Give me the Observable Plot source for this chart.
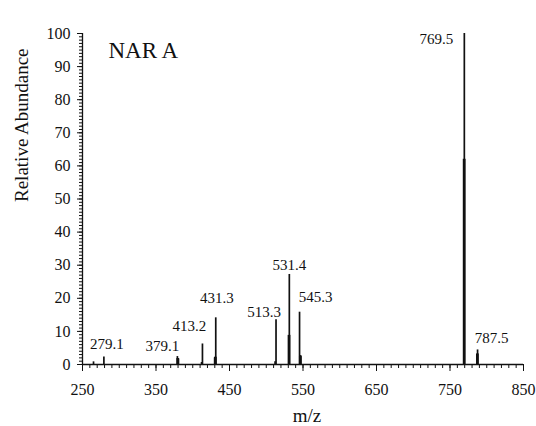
<!DOCTYPE html>
<html>
<head>
<meta charset="utf-8">
<script src="https://cdn.jsdelivr.net/npm/d3@7"></script>
<script src="https://cdn.jsdelivr.net/npm/@observablehq/plot@0.6"></script>
<style>
  html, body { margin: 0; padding: 0; background: #fff; font-family: "Liberation Serif", serif; }
  svg text { font-family: "Liberation Serif", serif !important; }
</style>
</head>
<body>
<div id="chart"></div>
<script>
// Main peaks (m/z, relative abundance)
const peakMz = [265.0, 279.1, 379.1, 380.4, 412.0, 413.2, 429.8, 431.3, 512.0, 513.3, 531.4, 545.3, 546.8, 769.5, 787.5];
const peakAbund = [0.8, 2.3, 2.4, 1.6, 0.6, 6.2, 2.0, 14.1, 0.8, 13.5, 27.2, 15.8, 2.7, 100, 4.4];
// Broadened bases of peaks (m/z, relative abundance)
const baseMz = [379.6, 430.8, 531.0, 546.4, 769.3, 787.3];
const baseAbund = [1.8, 2.2, 8.8, 2.4, 62.0, 3.2];
// Labelled peaks
const labelText = ["279.1", "379.1", "413.2", "431.3", "513.3", "531.4", "545.3", "769.5", "787.5"];
const labelMz = [279.1, 379.1, 413.2, 431.3, 513.3, 531.4, 545.3, 769.5, 787.5];
const labelAbund = [2.3, 2.4, 6.2, 14.1, 13.5, 27.2, 15.8, 100, 4.4];
// Axis ticks
const xTickLabels = [250, 350, 450, 550, 650, 750, 850];
const xMinorTicks = d3.range(250, 851, 10);
const yTickLabels = [0, 10, 20, 30, 40, 50, 60, 70, 80, 90, 100];
const yMinorTicks = d3.range(0, 101, 1);
const title = "NAR A";
const xTitle = "m/z";
const yTitle = "Relative Abundance";

const peaks = peakMz.map((m, i) => ({mz: m, v: peakAbund[i]}));
const bases = baseMz.map((m, i) => ({mz: m, v: baseAbund[i]}));

// label placement offsets (styling)
const labelStyle = {
  "279.1": {dx: 3, dy: -8, anchor: "middle"},
  "379.1": {dx: -15, dy: -6, anchor: "middle"},
  "413.2": {dx: -13, dy: -13, anchor: "middle"},
  "431.3": {dx: 1, dy: -15, anchor: "middle"},
  "513.3": {dx: -12, dy: -3, anchor: "middle"},
  "531.4": {dx: 0, dy: -4, anchor: "middle"},
  "545.3": {dx: 16, dy: -10, anchor: "middle"},
  "769.5": {dx: -11, dy: 10, anchor: "end"},
  "787.5": {dx: 14, dy: -7, anchor: "middle"}
};

const ink = "#111";
const serif = "Liberation Serif";

const labelMarks = labelText.map((t, i) => {
  const s = labelStyle[t];
  return Plot.text([{mz: labelMz[i], v: labelAbund[i], t}], {
    x: "mz", y: "v", text: "t", dx: s.dx, dy: s.dy,
    textAnchor: s.anchor, lineAnchor: "bottom",
    fontSize: 15, fill: ink, fontFamily: serif
  });
});

const chart = Plot.plot({
  width: 536,
  height: 426,
  marginLeft: 82,
  marginRight: 13,
  marginTop: 33,
  marginBottom: 62,
  style: {fontFamily: serif},
  x: {domain: [250, 850]},
  y: {domain: [0, 100]},
  marks: [
    Plot.axisX({ticks: xMinorTicks, tickSize: 4, text: null, label: null, stroke: ink}),
    Plot.axisX({ticks: xTickLabels, tickSize: 7, tickPadding: 12, fontSize: 16, label: null, stroke: ink, fill: ink, fontFamily: serif}),
    Plot.axisY({ticks: yMinorTicks, tickSize: 3, text: null, label: null, stroke: ink}),
    Plot.axisY({ticks: yTickLabels, tickSize: 5, tickPadding: 7, fontSize: 16, label: null, stroke: ink, fill: ink, fontFamily: serif}),
    Plot.ruleY([0], {stroke: ink, strokeWidth: 1.3}),
    Plot.ruleX([250], {stroke: ink, strokeWidth: 1.3}),
    Plot.ruleX(bases, {x: "mz", y1: 0, y2: "v", stroke: ink, strokeWidth: 2.8}),
    Plot.ruleX(peaks, {x: "mz", y1: 0, y2: "v", stroke: ink, strokeWidth: 1.7}),
    ...labelMarks,
    Plot.text([title], {frameAnchor: "top-left", dx: 26, dy: 24, textAnchor: "start", lineAnchor: "bottom", fontSize: 23, fill: ink, fontFamily: serif}),
    Plot.text([xTitle], {frameAnchor: "bottom", dx: 4, dy: 57, lineAnchor: "bottom", fontSize: 19, fill: ink, fontFamily: serif}),
    Plot.text([yTitle], {frameAnchor: "left", dx: -55, dy: 3, rotate: -90, lineAnchor: "bottom", fontSize: 19, fill: ink, fontFamily: serif})
  ]
});
chart.setAttribute("font-family", serif);
chart.querySelectorAll("text").forEach(el => el.style.setProperty("font-family", "'Liberation Serif', serif", "important"));
document.getElementById("chart").appendChild(chart);
</script>
</body>
</html>
